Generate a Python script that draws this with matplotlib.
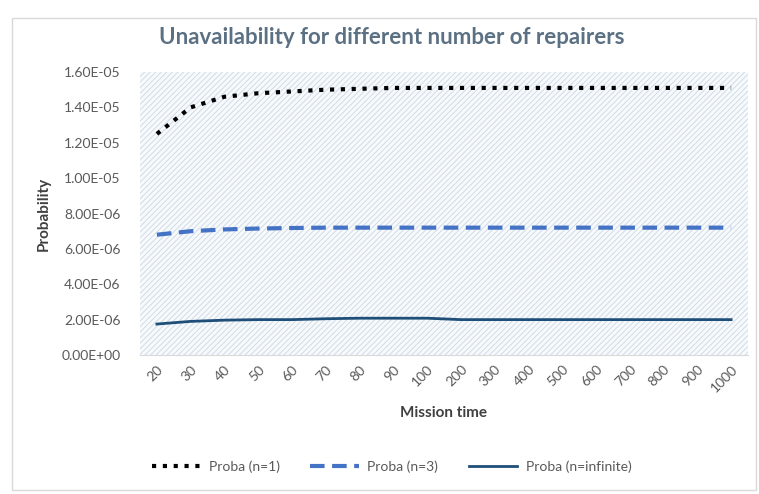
import matplotlib
matplotlib.use("Agg")
import matplotlib.pyplot as plt
from matplotlib.patches import Rectangle
import matplotlib as mpl

categories = ["20", "30", "40", "50", "60", "70", "80", "90", "100",
              "200", "300", "400", "500", "600", "700", "800", "900", "1000"]
proba_n1 = [1.25e-5, 1.40e-5, 1.46e-5, 1.48e-5, 1.49e-5, 1.50e-5, 1.505e-5, 1.51e-5, 1.51e-5,
            1.51e-5, 1.51e-5, 1.51e-5, 1.51e-5, 1.51e-5, 1.51e-5, 1.51e-5, 1.51e-5, 1.51e-5]
proba_n3 = [6.8e-6, 7.0e-6, 7.1e-6, 7.15e-6, 7.18e-6, 7.2e-6, 7.2e-6, 7.2e-6, 7.2e-6,
            7.2e-6, 7.2e-6, 7.2e-6, 7.2e-6, 7.2e-6, 7.2e-6, 7.2e-6, 7.2e-6, 7.2e-6]
proba_inf = [1.75e-6, 1.9e-6, 1.97e-6, 2.0e-6, 2.0e-6, 2.05e-6, 2.08e-6, 2.08e-6, 2.08e-6,
             2.0e-6, 2.0e-6, 2.0e-6, 2.0e-6, 2.0e-6, 2.0e-6, 2.0e-6, 2.0e-6, 2.0e-6]
y_ticks = [0, 2e-6, 4e-6, 6e-6, 8e-6, 1e-5, 1.2e-5, 1.4e-5, 1.6e-5]
y_ticklabels = ["0.00E+00", "2.00E-06", "4.00E-06", "6.00E-06", "8.00E-06",
                "1.00E-05", "1.20E-05", "1.40E-05", "1.60E-05"]

plt.rcParams['font.family'] = ['Lato', 'DejaVu Sans']
plt.rcParams['hatch.color'] = '#c9d8e8'
plt.rcParams['hatch.linewidth'] = 0.6

fig = plt.figure(figsize=(7.59, 4.94), dpi=100)
fig.patches.append(Rectangle((0.016, 0.008), 0.98, 0.955, transform=fig.transFigure,
                             fill=False, edgecolor='#d9d9d9', linewidth=1))

ax = fig.add_axes([140/759, 1 - 355/494, (748 - 140)/759, (355 - 72)/494])
ax.set_facecolor('#f7f9fb')
ax.add_patch(Rectangle((0, 0), 1, 1, transform=ax.transAxes, facecolor='none',
                       hatch='//////', edgecolor='#c9d8e8', linewidth=0, zorder=0))

x = list(range(len(categories)))
ax.plot(x, proba_n1, color='black', linestyle=(0, (1, 1.6)), linewidth=3,
        label='Proba (n=1)', zorder=3)
ax.plot(x, proba_n3, color='#4472c4', linestyle=(0, (3.5, 1.8)), linewidth=3,
        label='Proba (n=3)', zorder=3)
ax.plot(x, proba_inf, color='#1f4e79', linestyle='-', linewidth=2,
        label='Proba (n=infinite)', zorder=3)

ax.set_xlim(-0.5, len(categories) - 0.5)
ax.set_ylim(0, 1.6e-5)
ax.set_yticks(y_ticks)
ax.set_yticklabels(y_ticklabels)
ax.set_xticks(x)
ax.set_xticklabels(categories, rotation=45, ha='right', rotation_mode='anchor')
ax.tick_params(axis='both', length=0, labelsize=10, colors='#595959')
ax.tick_params(axis='y', pad=14)
ax.tick_params(axis='x', pad=6)
for sp in ['top', 'right', 'left']:
    ax.spines[sp].set_visible(False)
ax.spines['bottom'].set_color('#d9d9d9')

ax.set_xlabel('Mission time', fontsize=11, fontweight='bold', color='#404040', labelpad=8)
ax.set_ylabel('Probability', fontsize=11, fontweight='bold', color='#404040', labelpad=8)

fig.text(0.516, 1 - 37/494, 'Unavailability for different number of repairers',
         ha='center', va='center', fontsize=16, fontweight='bold', color='#5b7083')

leg = fig.legend(loc='center', bbox_to_anchor=(0.516, 1 - 467/494), ncol=3, frameon=False,
                 fontsize=10, handlelength=3.5, columnspacing=2.2, handletextpad=0.6)
for t in leg.get_texts():
    t.set_color('#595959')

fig.savefig('out.png', dpi=100)
